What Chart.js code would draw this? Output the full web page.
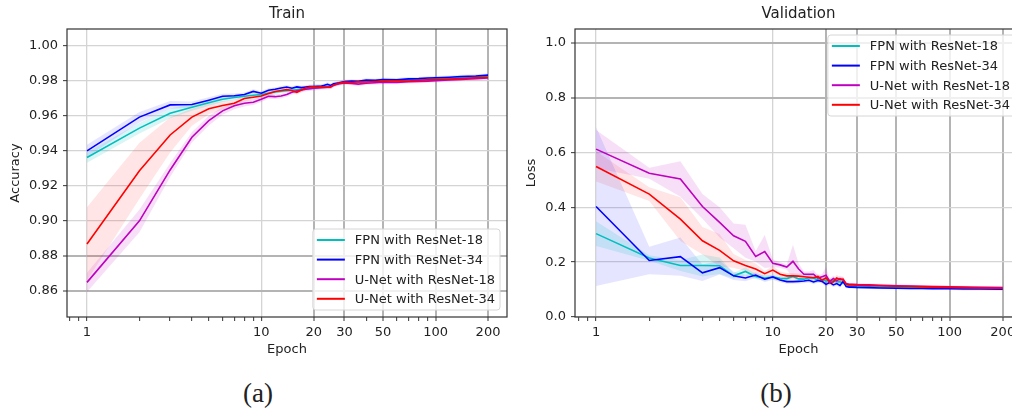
<!DOCTYPE html>
<html>
<head>
<meta charset="utf-8">
<script src="https://cdn.jsdelivr.net/npm/chart.js@4.4.1/dist/chart.umd.min.js"></script>
<style>
  html, body { margin: 0; padding: 0; background: #fff; overflow: hidden; }
  #wrap { position: relative; width: 1012px; height: 413px; overflow: hidden; }
  canvas { position: absolute; top: 0; }
  #trainChart { left: 0; }
  #valChart { left: 510px; }
  .sub { position: absolute; top: 378px; font-family: "Liberation Serif", serif; font-size: 27px; color: #222; transform: translateX(-50%); }
</style>
</head>
<body>
<div id="wrap">
  <canvas id="trainChart" width="510" height="370"></canvas>
  <canvas id="valChart" width="530" height="370"></canvas>
  <div class="sub" style="left:258px">(a)</div>
  <div class="sub" style="left:776px">(b)</div>
</div>
<script>
// series names / colours (matplotlib c, b, m, r)
const seriesNames = ['FPN with ResNet-18', 'FPN with ResNet-34', 'U-Net with ResNet-18', 'U-Net with ResNet-34'];
const seriesColors = ['#00bfbf', '#0000ff', '#bf00bf', '#ff0000'];
const bandColors = ['rgba(0,191,191,0.15)', 'rgba(0,0,255,0.10)', 'rgba(191,0,191,0.12)', 'rgba(255,0,0,0.10)'];

// tick labels
const xTickValues = [0.8, 0.9, 1, 2, 3, 4, 5, 6, 7, 8, 9, 10, 20, 30, 40, 50, 60, 70, 80, 90, 100, 200];
const xTickLabels = [1, 10, 20, 30, 50, 100, 200];
const trainYTicks = [0.86, 0.88, 0.90, 0.92, 0.94, 0.96, 0.98, 1.00];
const valYTicks = [0.0, 0.2, 0.4, 0.6, 0.8, 1.0];

// ---- Train accuracy ----
const trainEpochs = [1,2,3,4,5,6,7,8,9,10, 11,12,13,14,15,16,17,18,19,20, 21,22,23,24,25,26,27,28,30,33, 36,40,45,50,60,70,80,90,100,120, 140,170,200];
const trainFpn18 = [0.9362,0.9530,0.9615,0.9650,0.9675,0.9695,0.9705,0.9712,0.9718,0.9722,
  0.9730,0.9737,0.9741,0.9744,0.9747,0.9750,0.9752,0.9754,0.9757,0.9759,
  0.9761,0.9764,0.9766,0.9768,0.9770,0.9777,0.9782,0.9786,0.9792,0.9795,
  0.9794,0.9799,0.9798,0.9802,0.9803,0.9806,0.9807,0.9810,0.9812,0.9815,
  0.9818,0.9822,0.9826];
const trainFpn34 = [0.9400,0.9593,0.9663,0.9665,0.9690,0.9712,0.9715,0.9722,0.9740,0.9730,
  0.9747,0.9752,0.9760,0.9765,0.9758,0.9766,0.9762,0.9765,0.9768,0.9768,
  0.9770,0.9770,0.9775,0.9781,0.9774,0.9784,0.9787,0.9790,0.9797,0.9800,
  0.9798,0.9805,0.9803,0.9808,0.9807,0.9812,0.9813,0.9817,0.9818,0.9821,
  0.9825,0.9828,0.9833];
const trainUnet18 = [0.8648,0.9000,0.9291,0.9478,0.9573,0.9629,0.9658,0.9672,0.9678,0.9695,
  0.9712,0.9710,0.9714,0.9722,0.9735,0.9743,0.9748,0.9752,0.9755,0.9758,
  0.9760,0.9762,0.9763,0.9764,0.9765,0.9775,0.9780,0.9784,0.9788,0.9786,
  0.9782,0.9787,0.9790,0.9793,0.9792,0.9796,0.9797,0.9799,0.9802,0.9806,
  0.9809,0.9813,0.9817];
const trainUnet34 = [0.8867,0.9286,0.9491,0.9593,0.9641,0.9660,0.9672,0.9700,0.9707,0.9714,
  0.9728,0.9740,0.9745,0.9750,0.9745,0.9735,0.9748,0.9760,0.9765,0.9766,
  0.9765,0.9766,0.9764,0.9765,0.9766,0.9776,0.9783,0.9787,0.9793,0.9791,
  0.9795,0.9794,0.9797,0.9799,0.9801,0.9800,0.9804,0.9806,0.9808,0.9811,
  0.9814,0.9818,0.9821];
const trainFpn18Sd = [0.0030,0.0030,0.0028,0.0020,0.0018,0.0015,0.0014,0.0012,0.0012,0.0010,
  0.0010,0.0010,0.0010,0.0010,0.0010,0.0010,0.0010,0.0010,0.0010,0.0010,
  0.0010,0.0010,0.0010,0.0010,0.0010,0.0009,0.0009,0.0009,0.0009,0.0009,
  0.0009,0.0009,0.0009,0.0009,0.0009,0.0008,0.0008,0.0008,0.0008,0.0008,
  0.0008,0.0008,0.0008];
const trainFpn34Sd = [0.0035,0.0030,0.0022,0.0018,0.0016,0.0014,0.0013,0.0012,0.0012,0.0011,
  0.0011,0.0011,0.0011,0.0011,0.0011,0.0011,0.0011,0.0011,0.0011,0.0011,
  0.0011,0.0011,0.0011,0.0011,0.0011,0.0010,0.0010,0.0010,0.0010,0.0010,
  0.0010,0.0010,0.0010,0.0010,0.0010,0.0010,0.0010,0.0010,0.0010,0.0010,
  0.0010,0.0010,0.0010];
const trainUnet18Sd = [0.0055,0.0065,0.0040,0.0030,0.0028,0.0022,0.0020,0.0018,0.0016,0.0015,
  0.0014,0.0014,0.0013,0.0013,0.0012,0.0012,0.0012,0.0012,0.0012,0.0012,
  0.0012,0.0012,0.0012,0.0012,0.0012,0.0011,0.0011,0.0011,0.0011,0.0011,
  0.0011,0.0010,0.0010,0.0010,0.0010,0.0010,0.0010,0.0010,0.0010,0.0010,
  0.0010,0.0010,0.0010];
const trainUnet34Sd = [0.0210,0.0160,0.0100,0.0050,0.0032,0.0025,0.0020,0.0018,0.0016,0.0015,
  0.0014,0.0014,0.0013,0.0013,0.0012,0.0012,0.0012,0.0012,0.0012,0.0012,
  0.0012,0.0012,0.0012,0.0012,0.0012,0.0011,0.0011,0.0011,0.0011,0.0011,
  0.0011,0.0010,0.0010,0.0010,0.0010,0.0010,0.0010,0.0010,0.0010,0.0010,
  0.0010,0.0010,0.0010];

// ---- Validation loss ----
const valEpochs = [1,2,3,4,5,6,7,8,9,10, 11,12,13,14,15,16,17,18,19,20, 21,22,23,24,25,26,27,28,30,35, 40,50,60,70,80,100,120,150,200];
const valFpn18 = [0.304,0.215,0.188,0.188,0.187,0.150,0.166,0.148,0.142,0.146,
  0.141,0.140,0.148,0.139,0.138,0.143,0.142,0.135,0.136,0.132,
  0.133,0.132,0.129,0.128,0.124,0.118,0.113,0.112,0.111,0.110,
  0.109,0.108,0.107,0.106,0.106,0.105,0.105,0.104,0.104];
const valFpn34 = [0.403,0.206,0.220,0.161,0.180,0.150,0.142,0.153,0.138,0.146,
  0.135,0.129,0.129,0.130,0.131,0.134,0.128,0.133,0.130,0.119,
  0.126,0.117,0.122,0.115,0.130,0.111,0.109,0.109,0.108,0.107,
  0.106,0.105,0.104,0.104,0.103,0.103,0.102,0.102,0.101];
const valUnet18 = [0.612,0.524,0.503,0.403,0.345,0.296,0.276,0.221,0.239,0.196,
  0.190,0.182,0.203,0.175,0.156,0.156,0.156,0.142,0.147,0.152,
  0.130,0.140,0.132,0.140,0.135,0.122,0.119,0.119,0.118,0.117,
  0.116,0.114,0.113,0.112,0.111,0.110,0.109,0.108,0.107];
const valUnet34 = [0.549,0.448,0.357,0.278,0.243,0.205,0.188,0.175,0.158,0.171,
  0.156,0.150,0.150,0.149,0.147,0.145,0.143,0.148,0.134,0.143,
  0.126,0.128,0.142,0.136,0.138,0.119,0.117,0.117,0.116,0.115,
  0.114,0.112,0.111,0.110,0.109,0.108,0.107,0.106,0.105];
const valFpn18Sd = [0.045,0.010,0.020,0.040,0.030,0.010,0.015,0.010,0.010,0.008,
  0.008,0.008,0.008,0.008,0.008,0.010,0.020,0.008,0.008,0.008,
  0.008,0.008,0.008,0.008,0.008,0.006,0.005,0.005,0.004,0.004,
  0.004,0.004,0.004,0.004,0.004,0.004,0.004,0.004,0.004];
const valFpn34Sd = [0.290,0.050,0.070,0.030,0.025,0.015,0.012,0.010,0.010,0.010,
  0.008,0.008,0.008,0.008,0.008,0.008,0.008,0.008,0.008,0.008,
  0.008,0.008,0.008,0.008,0.008,0.006,0.005,0.005,0.005,0.005,
  0.005,0.005,0.005,0.005,0.005,0.005,0.005,0.005,0.005];
const valUnet18Sd = [0.070,0.020,0.065,0.045,0.055,0.045,0.060,0.020,0.060,0.015,
  0.010,0.010,0.060,0.020,0.010,0.010,0.015,0.010,0.010,0.030,
  0.010,0.010,0.010,0.010,0.010,0.006,0.005,0.005,0.005,0.005,
  0.005,0.005,0.005,0.005,0.005,0.005,0.005,0.005,0.005];
const valUnet34Sd = [0.055,0.025,0.080,0.050,0.060,0.025,0.020,0.020,0.010,0.015,
  0.010,0.010,0.010,0.010,0.010,0.010,0.010,0.010,0.010,0.010,
  0.010,0.010,0.012,0.010,0.010,0.006,0.005,0.005,0.005,0.005,
  0.005,0.005,0.005,0.005,0.005,0.005,0.005,0.005,0.005];

const FONT = '"DejaVu Sans", sans-serif';
const darkX = [20, 30, 50, 100, 200];

function buildDatasets(epochs, means, sds) {
  const sets = [];
  means.forEach((m, i) => {
    sets.push({
      label: seriesNames[i],
      data: epochs.map((e, k) => ({ x: e, y: m[k] })),
      borderColor: seriesColors[i],
      backgroundColor: seriesColors[i],
      borderWidth: 1.6,
      pointRadius: 0,
      fill: false,
      order: 3 - i
    });
  });
  means.forEach((m, i) => {
    sets.push({
      label: '', band: true,
      data: epochs.map((e, k) => ({ x: e, y: m[k] + sds[i][k] })),
      borderWidth: 0, pointRadius: 0,
      backgroundColor: bandColors[i],
      fill: '+1', order: 10
    });
    sets.push({
      label: '', band: true,
      data: epochs.map((e, k) => ({ x: e, y: m[k] - sds[i][k] })),
      borderWidth: 0, pointRadius: 0,
      fill: false, order: 10
    });
  });
  return sets;
}

// spines on all four sides
const framePlugin = {
  id: 'frame',
  afterDatasetsDraw(chart) {
    const { ctx, chartArea: a } = chart;
    ctx.save();
    ctx.strokeStyle = '#333';
    ctx.lineWidth = 1.2;
    ctx.strokeRect(a.left, a.top, a.right - a.left, a.bottom - a.top);
    ctx.restore();
  }
};

// matplotlib style boxed legend
const boxLegend = {
  id: 'boxLegend',
  afterDraw(chart, args, opts) {
    const { ctx, chartArea: a } = chart;
    const items = chart.data.datasets.filter(d => !d.band);
    ctx.save();
    ctx.font = '13px ' + FONT;
    const textW = Math.max(...items.map(d => ctx.measureText(d.label).width));
    const w = 42 + textW + 5;
    const h = 81;
    const x0 = a.right - 7 - w;
    const y0 = opts.corner === 'br' ? a.bottom - 7 - h : a.top + 6;
    ctx.beginPath();
    ctx.roundRect(x0, y0, w, h, 3);
    ctx.fillStyle = 'rgba(255,255,255,0.8)';
    ctx.fill();
    ctx.strokeStyle = '#d6d6d6';
    ctx.lineWidth = 1;
    ctx.stroke();
    items.forEach((d, i) => {
      const y = y0 + 11 + i * 19.6;
      ctx.beginPath();
      ctx.moveTo(x0 + 4, y);
      ctx.lineTo(x0 + 32, y);
      ctx.strokeStyle = d.borderColor;
      ctx.lineWidth = 2;
      ctx.stroke();
      ctx.fillStyle = '#222';
      ctx.textBaseline = 'middle';
      ctx.fillText(d.label, x0 + 42, y + 1);
    });
    ctx.restore();
  }
};

function makeChart(id, cfg) {
  return new Chart(document.getElementById(id), {
    type: 'line',
    data: { datasets: buildDatasets(cfg.epochs, cfg.means, cfg.sds) },
    options: {
      responsive: false,
      animation: false,
      devicePixelRatio: 1,
      layout: { padding: { left: 0, right: cfg.rightPad, top: 0, bottom: 0 } },
      plugins: {
        legend: { display: false },
        tooltip: { enabled: false },
        title: {
          display: true, text: cfg.title, fullSize: false,
          color: '#222', font: { family: FONT, size: 15, weight: 'normal' },
          padding: { top: 5, bottom: 6 }
        },
        boxLegend: { corner: cfg.corner }
      },
      scales: {
        x: {
          type: 'logarithmic',
          min: cfg.xMin, max: cfg.xMax,
          afterBuildTicks: s => { s.ticks = xTickValues.map(v => ({ value: v })); },
          afterFit: s => { s.height = 53; },
          border: { display: false },
          grid: {
            color: c => xTickLabels.includes(c.tick && c.tick.value)
              ? (darkX.includes(c.tick.value) ? '#b4b4b4' : '#d4d4d4') : 'rgba(0,0,0,0)',
            lineWidth: c => (c.tick && darkX.includes(c.tick.value)) ? 2 : 1.3,
            tickColor: '#333', tickLength: 4, tickWidth: 1
          },
          ticks: {
            autoSkip: false, maxRotation: 0, padding: 4,
            color: '#222', font: { family: FONT, size: 13 },
            callback: v => xTickLabels.includes(v) ? String(v) : ''
          },
          title: {
            display: true, text: 'Epoch', color: '#222',
            font: { family: FONT, size: 13 }, padding: { top: 0, bottom: 12.6 }
          }
        },
        y: {
          type: 'linear',
          min: cfg.yMin, max: cfg.yMax,
          afterBuildTicks: s => { s.ticks = cfg.yTicks.map(v => ({ value: v })); },
          afterFit: s => { s.width = cfg.yWidth; },
          border: { display: false },
          grid: {
            color: c => (c.tick && cfg.darkY.includes(c.tick.value)) ? '#b4b4b4' : '#d4d4d4',
            lineWidth: c => (c.tick && cfg.darkY.includes(c.tick.value)) ? 2 : 1.3,
            tickColor: '#333', tickLength: 4, tickWidth: 1
          },
          ticks: {
            padding: 5, color: '#222', font: { family: FONT, size: 13 },
            callback: v => Number(v).toFixed(cfg.decimals)
          },
          title: {
            display: true, text: cfg.yTitle, color: '#222',
            font: { family: FONT, size: 13 }, padding: { top: cfg.yTitlePad, bottom: 0 }
          }
        }
      }
    },
    plugins: [framePlugin, boxLegend]
  });
}

makeChart('trainChart', {
  title: 'Train', yTitle: 'Accuracy',
  epochs: trainEpochs,
  means: [trainFpn18, trainFpn34, trainUnet18, trainUnet34],
  sds: [trainFpn18Sd, trainFpn34Sd, trainUnet18Sd, trainUnet34Sd],
  xMin: 0.768, xMax: 257,
  yMin: 0.845, yMax: 1.0097, yTicks: trainYTicks, darkY: [0.86, 0.88], decimals: 2,
  yWidth: 67, yTitlePad: 8.2, rightPad: 3, corner: 'br'
});

makeChart('valChart', {
  title: 'Validation', yTitle: 'Loss',
  epochs: valEpochs,
  means: [valFpn18, valFpn34, valUnet18, valUnet34],
  sds: [valFpn18Sd, valFpn34Sd, valUnet18Sd, valUnet34Sd],
  xMin: 0.76, xMax: 257,
  yMin: 0, yMax: 1.05, yTicks: valYTicks, darkY: [0.8, 1.0], decimals: 1,
  yWidth: 65, yTitlePad: 13.9, rightPad: 18, corner: 'tr'
});
</script>
</body>
</html>
